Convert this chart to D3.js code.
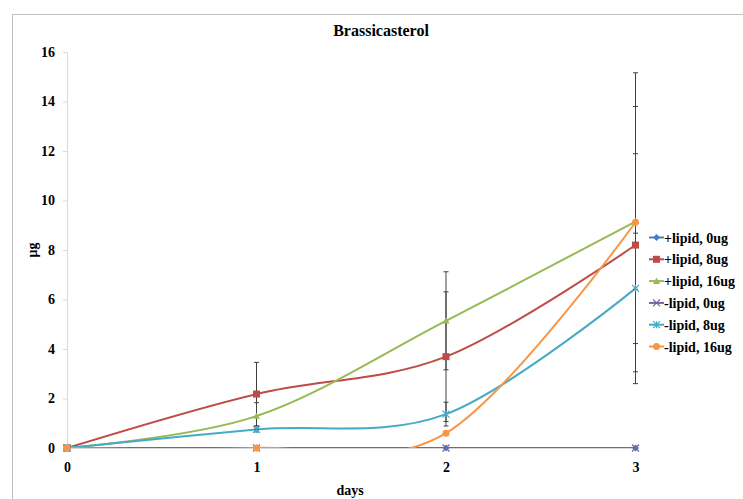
<!DOCTYPE html>
<html>
<head>
<meta charset="utf-8">
<script src="https://cdn.jsdelivr.net/npm/d3@7"></script>
<style>
  html, body { margin: 0; padding: 0; background: #fff; }
  svg { display: block; }
</style>
</head>
<body>
<svg id="chart" width="743" height="499"></svg>
<script>
// Brassicasterol content over time, per treatment
const days = [0, 1, 2, 3];
const seriesNames = ["+lipid, 0ug", "+lipid, 8ug", "+lipid, 16ug", "-lipid, 0ug", "-lipid, 8ug", "-lipid, 16ug"];
const plusLipid0 = [0, 0, 0, 0];
const plusLipid8 = [0, 2.18, 3.69, 8.2];
const plusLipid16 = [0, 1.29, 5.14, 9.15];
const minusLipid0 = [0, 0, 0, 0];
const minusLipid8 = [0, 0.75, 1.37, 6.45];
const minusLipid16 = [0, 0, 0.6, 9.12];
// standard deviations (error bars)
const errPlus0 = [0, 0, 0, 0];
const errPlus8 = [0, 1.28, 2.62, 5.6];
const errPlus16 = [0, 0.54, 1.98, 2.74];
const errMinus0 = [0, 0, 0, 0];
const errMinus8 = [0, 0.1, 0.48, 2.23];
const errMinus16 = [0, 0, 0, 6.04];
const yTicks = [0, 2, 4, 6, 8, 10, 12, 14, 16];
const colors = ["#4a7ebb", "#be4b48", "#98b954", "#7d60a0", "#46aac5", "#f79646"];
const symbols = ["diamond", "square", "triangle", "x", "star", "circle"];

const values = [plusLipid0, plusLipid8, plusLipid16, minusLipid0, minusLipid8, minusLipid16];
const errors = [errPlus0, errPlus8, errPlus16, errMinus0, errMinus8, errMinus16];

const FONT = "'Liberation Serif', 'Times New Roman', serif";
const svg = d3.select("#chart");

function styleText(sel, size) {
  return sel.style("font-family", FONT).style("font-weight", "bold")
    .style("font-size", size + "px").attr("fill", "#000");
}

// outer chart frame
svg.append("rect")
  .attr("x", 12.5).attr("y", 14.5)
  .attr("width", 760).attr("height", 520)
  .attr("fill", "#fff").attr("stroke", "#bfbfbf").attr("stroke-width", 1);

const x = d3.scaleLinear().domain([0, 3]).range([67, 635.5]);
const y = d3.scaleLinear().domain([0, 16]).range([448, 52]);

styleText(svg.append("text")
  .attr("x", 381).attr("y", 36)
  .attr("text-anchor", "middle")
  .text("Brassicasterol"), 16);

// y axis
const yAxis = d3.axisLeft(y).tickValues(yTicks).tickSize(4).tickPadding(8).tickFormat(d3.format("d"));
const gy = svg.append("g").attr("transform", "translate(67,0)").call(yAxis);
gy.select(".domain").attr("stroke", "#d9d9d9");
gy.selectAll(".tick line").attr("stroke", "#d9d9d9");
styleText(gy.selectAll(".tick text"), 14);

// x axis
const xAxis = d3.axisBottom(x).tickValues(days).tickSize(0).tickPadding(14).tickFormat(d3.format("d"));
const gx = svg.append("g").attr("transform", "translate(0,448)").call(xAxis);
gx.select(".domain").attr("stroke", "#d9d9d9");
styleText(gx.selectAll(".tick text"), 14);

styleText(svg.append("text")
  .attr("x", 350).attr("y", 495)
  .attr("text-anchor", "middle")
  .text("days"), 14);

styleText(svg.append("text")
  .attr("transform", "translate(37,250) rotate(-90)")
  .attr("text-anchor", "middle")
  .text("μg"), 14);

// clip the plot area at the axis range
svg.append("clipPath").attr("id", "plotClip")
  .append("rect").attr("x", 60).attr("y", 40).attr("width", 590).attr("height", 408);

const line = d3.line()
  .x((d, i) => x(days[i]))
  .y(d => y(d))
  .curve(d3.curveCardinal.tension(0));

function marker(g, kind, cx, cy, color) {
  const s = 3.5;
  if (kind === "diamond") {
    g.append("path").attr("d", `M${cx},${cy - s}L${cx + s},${cy}L${cx},${cy + s}L${cx - s},${cy}Z`).attr("fill", color);
  } else if (kind === "square") {
    g.append("rect").attr("x", cx - s).attr("y", cy - s).attr("width", 2 * s).attr("height", 2 * s).attr("fill", color);
  } else if (kind === "triangle") {
    g.append("path").attr("d", `M${cx},${cy - s}L${cx + s},${cy + s * 0.8}L${cx - s},${cy + s * 0.8}Z`).attr("fill", color);
  } else if (kind === "x") {
    g.append("path").attr("d", `M${cx - s},${cy - s}L${cx + s},${cy + s}M${cx - s},${cy + s}L${cx + s},${cy - s}`)
      .attr("stroke", color).attr("stroke-width", 1.2);
  } else if (kind === "star") {
    g.append("path").attr("d", `M${cx - s},${cy - s}L${cx + s},${cy + s}M${cx - s},${cy + s}L${cx + s},${cy - s}M${cx},${cy - s}L${cx},${cy + s}`)
      .attr("stroke", color).attr("stroke-width", 1.2);
  } else {
    g.append("circle").attr("cx", cx).attr("cy", cy).attr("r", s).attr("fill", color);
  }
}

const plot = svg.append("g").attr("clip-path", "url(#plotClip)");
const barLayer = svg.append("g");

// error bars
values.forEach((vals, si) => {
  vals.forEach((v, i) => {
    const e = errors[si][i];
    if (e <= 0) return;
    const cx = x(days[i]);
    const eg = barLayer.append("g").attr("stroke", "#404040").attr("stroke-width", 1);
    eg.append("line").attr("x1", cx).attr("x2", cx).attr("y1", y(v + e)).attr("y2", y(Math.max(0, v - e)));
    eg.append("line").attr("x1", cx - 2.5).attr("x2", cx + 2.5).attr("y1", y(v + e)).attr("y2", y(v + e));
    if (v - e > 0) eg.append("line").attr("x1", cx - 2.5).attr("x2", cx + 2.5).attr("y1", y(v - e)).attr("y2", y(v - e));
  });
});

values.forEach((vals, si) => {
  plot.append("path")
    .attr("d", line(vals))
    .attr("fill", "none")
    .attr("stroke", colors[si])
    .attr("stroke-width", 2);
  const mg = svg.append("g");
  vals.forEach((v, i) => marker(mg, symbols[si], x(days[i]), y(v), colors[si]));
});

// legend
const legend = svg.append("g");
seriesNames.forEach((name, i) => {
  const ly = 237.5 + i * 21.8;
  legend.append("line").attr("x1", 649).attr("x2", 664).attr("y1", ly).attr("y2", ly)
    .attr("stroke", colors[i]).attr("stroke-width", 2);
  marker(legend, symbols[i], 656.5, ly, colors[i]);
  styleText(legend.append("text").attr("x", 664).attr("y", ly + 5).text(name), 14);
});
</script>
</body>
</html>
